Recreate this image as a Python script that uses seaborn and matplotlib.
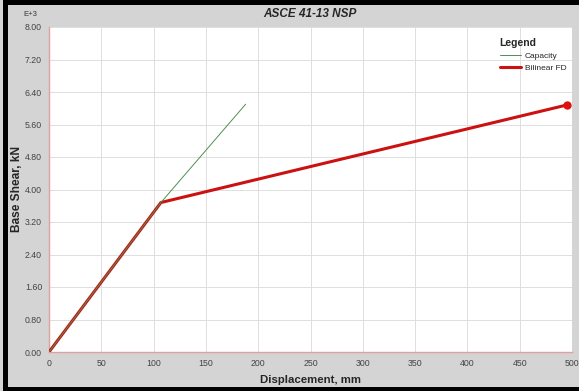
import pandas as pd
import matplotlib.pyplot as plt
import seaborn as sns
from matplotlib.patches import Rectangle

# Pushover data (base shear in kN x 1000)
cap_disp = [0, 107, 188]
cap_shear = [0.0, 3.68, 6.10]
bil_disp = [0, 107, 495]
bil_shear = [0.0, 3.68, 6.08]
x_ticks = [0, 50, 100, 150, 200, 250, 300, 350, 400, 450, 500]
y_ticks = [0.0, 0.8, 1.6, 2.4, 3.2, 4.0, 4.8, 5.6, 6.4, 7.2, 8.0]

sns.set_style("white")
plt.rcParams["font.family"] = ["Liberation Sans", "DejaVu Sans"]

cap = pd.DataFrame({"disp": cap_disp, "shear": cap_shear})
bil = pd.DataFrame({"disp": bil_disp, "shear": bil_shear})

fig = plt.figure(figsize=(5.79, 3.91), dpi=100, facecolor="#d4d4d4")
ax = fig.add_axes([49 / 579, 1 - 352 / 391, 523 / 579, 325 / 391])
ax.set_facecolor("white")

sns.lineplot(data=bil, x="disp", y="shear", ax=ax, color="#cc1111", lw=2.2,
             label="Bilinear FD", zorder=3)
sns.lineplot(data=cap, x="disp", y="shear", ax=ax, color="#4f8f4f", lw=0.7,
             label="Capacity", zorder=4)
ax.plot(bil_disp[-1], bil_shear[-1], "o", color="#dd1111", ms=5, zorder=5)

ax.set_xlim(0, 500)
ax.set_ylim(0, 8)
ax.set_xticks(x_ticks)
ax.set_yticks(y_ticks)
ax.set_yticklabels([f"{v:.2f}" for v in y_ticks])
ax.tick_params(labelsize=6.3, colors="#444444", length=3, width=0.6, pad=2)
ax.tick_params(axis="both", color="#666666")
ax.grid(True, color="#dedede", lw=0.7)

for s in ["top", "right"]:
    ax.spines[s].set_visible(False)
for s in ["left", "bottom"]:
    ax.spines[s].set_color("#e0a0a0")
    ax.spines[s].set_linewidth(1.0)

ax.set_xlabel("Displacement, mm", fontsize=8.2, fontweight="bold", labelpad=5)
ax.set_ylabel("Base Shear, kN", fontsize=8.6, fontweight="bold", va="center")
ax.yaxis.set_label_coords((17 - 49) / 523, 0.5)
fig.text(30 / 579, 1 - 15 / 391, "E+3", fontsize=5.5, ha="center", va="center", color="#333333")
fig.text(310 / 579, 1 - 14 / 391, "ASCE 41-13 NSP", fontsize=8.5, fontweight="bold",
         style="italic", ha="center", va="center")

h, l = ax.get_legend_handles_labels()
leg = ax.legend(h[::-1], l[::-1], title="Legend", loc="upper right",
                bbox_to_anchor=(1.0, 0.985), frameon=False, fontsize=6,
                handlelength=2.6, handletextpad=0.4, borderaxespad=0.3,
                labelspacing=0.5)
leg.get_title().set_fontweight("bold")
leg.get_title().set_fontsize(7.5)
leg._legend_box.align = "left"

# black frame bands (top, left, bottom); right side is cut off in the picture
W, H = 579, 391
for x0, y0, w, h_ in [(3, H - 5, W, 5), (3, 0, 5, H), (3, 0, W, 4)]:
    fig.patches.append(Rectangle((x0 / W, y0 / H), w / W, h_ / H, transform=fig.transFigure,
                                 facecolor="black", edgecolor="none", zorder=10))

fig.savefig("out.png", dpi=100, facecolor=fig.get_facecolor())
